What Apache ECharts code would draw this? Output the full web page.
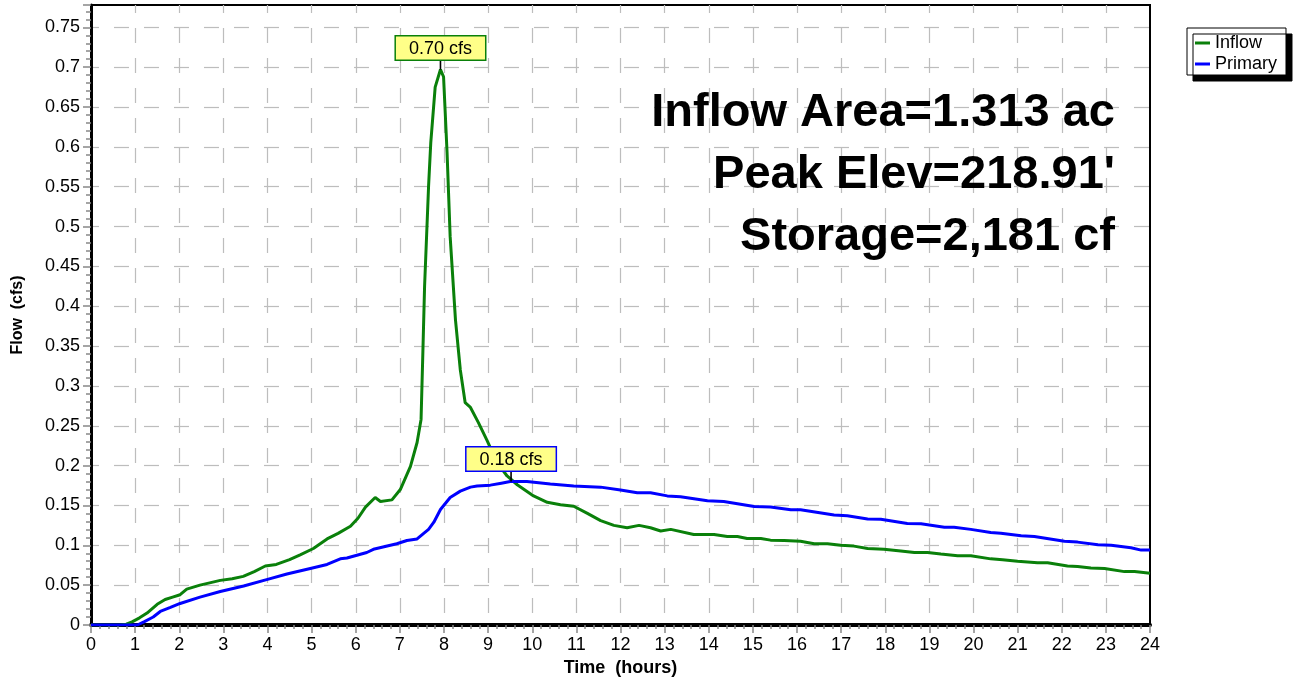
<!DOCTYPE html>
<html>
<head>
<meta charset="utf-8">
<script src="https://cdn.jsdelivr.net/npm/echarts@6/dist/echarts.min.js"></script>
<style>html,body{margin:0;padding:0;background:#fff;}#c{width:1294px;height:682px;}</style>
</head>
<body>
<div id="c"></div>
<script>
// Inflow hydrograph (hours, cfs)
const inflowTime = [0,0.65,0.8,0.93,1.1,1.27,1.5,1.68,1.85,2.02,2.17,2.47,2.93,3.2,3.45,3.7,3.95,4.2,4.5,4.74,5.04,5.35,5.6,5.88,6.05,6.22,6.44,6.56,6.82,7.01,7.24,7.39,7.48,7.52,7.56,7.65,7.7,7.8,7.92,7.99,8.07,8.14,8.26,8.37,8.48,8.6,8.78,8.98,9.2,9.43,9.66,10.03,10.34,10.64,10.94,11.25,11.55,11.85,12.15,12.42,12.68,12.91,13.14,13.66,14.12,14.42,14.65,14.87,15.18,15.4,15.71,16.08,16.39,16.69,16.99,17.29,17.6,17.97,18.35,18.66,18.96,19.26,19.64,19.94,20.39,20.66,21.0,21.45,21.68,22.13,22.36,22.66,22.97,23.42,23.65,24];
const inflowFlow = [0,0,0.001,0.004,0.009,0.015,0.026,0.032,0.035,0.038,0.045,0.05,0.056,0.058,0.061,0.067,0.074,0.076,0.082,0.088,0.096,0.108,0.115,0.124,0.134,0.148,0.16,0.155,0.157,0.17,0.199,0.229,0.258,0.34,0.425,0.55,0.605,0.675,0.697,0.688,0.592,0.487,0.383,0.32,0.279,0.273,0.254,0.231,0.204,0.187,0.176,0.162,0.154,0.151,0.149,0.14,0.131,0.125,0.122,0.125,0.122,0.118,0.12,0.1135,0.1135,0.111,0.111,0.1085,0.1085,0.1065,0.106,0.105,0.102,0.102,0.1,0.099,0.096,0.095,0.093,0.091,0.091,0.089,0.087,0.087,0.083,0.082,0.08,0.078,0.078,0.074,0.0735,0.0715,0.071,0.067,0.067,0.065];
// Primary outflow hydrograph (hours, cfs)
const primaryTime = [0,1.05,1.2,1.41,1.57,1.8,2.02,2.47,2.93,3.46,3.98,4.44,4.97,5.35,5.65,5.8,6.25,6.4,6.93,7.16,7.39,7.54,7.65,7.77,7.92,8.14,8.37,8.6,8.75,9.05,9.3,9.5,9.88,10.41,10.94,11.55,12.0,12.38,12.68,13.06,13.36,13.97,14.34,15.03,15.4,15.86,16.08,16.84,17.14,17.6,17.9,18.5,18.81,19.34,19.56,19.94,20.39,20.62,21.08,21.38,22.06,22.36,22.82,23.12,23.57,23.8,24];
const primaryFlow = [0,0,0.004,0.01,0.017,0.022,0.027,0.035,0.042,0.049,0.057,0.064,0.071,0.076,0.083,0.084,0.091,0.095,0.102,0.106,0.108,0.115,0.12,0.129,0.145,0.16,0.168,0.173,0.1745,0.1755,0.178,0.18,0.18,0.177,0.1745,0.173,0.1695,0.166,0.166,0.162,0.161,0.156,0.155,0.1486,0.148,0.1445,0.1445,0.138,0.137,0.133,0.1327,0.1273,0.127,0.1227,0.1227,0.12,0.116,0.115,0.112,0.111,0.105,0.104,0.1006,0.1,0.097,0.094,0.094];
const seriesNames = ['Inflow', 'Primary'];
const peakInflow = [7.92, 0.697];
const peakPrimary = [9.52, 0.18];
const peakLabels = ['0.70 cfs', '0.18 cfs'];
const infoLines = ['Inflow Area=1.313 ac', "Peak Elev=218.91'", 'Storage=2,181 cf'];

const FONT = "'Liberation Sans', Arial, sans-serif";
const GREEN = '#0a800a';
const BLUE = '#0000ff';

function peakMark(coord, text, border, lineLen) {
  return {
    silent: true,
    animation: false,
    data: [{
      coord: coord,
      symbol: 'rect',
      symbolSize: [1.6, lineLen],
      symbolOffset: [0, -lineLen / 2],
      itemStyle: { color: '#000' },
      label: {
        show: true, position: 'top', distance: 0,
        formatter: text, fontFamily: FONT, fontSize: 18, color: '#000',
        backgroundColor: '#ffff88', borderColor: border, borderWidth: 1.5,
        padding: [3, 13, 2, 13]
      }
    }]
  };
}

const gridLine = { show: true, showMinLine: false, showMaxLine: false, lineStyle: { color: '#bdbdbd', width: 1.2, type: [15, 15], dashOffset: 7 } };

const chart = echarts.init(document.getElementById('c'), null, { renderer: 'canvas' });
chart.setOption({
  animation: false,
  backgroundColor: '#fff',
  textStyle: { fontFamily: FONT },
  grid: { left: 91, top: 5, right: 144, bottom: 56, show: true, borderColor: '#000', borderWidth: 2, backgroundColor: 'transparent' },
  legend: {
    orient: 'vertical', left: 1187, top: 28,
    icon: 'rect', itemWidth: 15, itemHeight: 3, itemGap: 3,
    padding: [6, 9, 2, 8],
    backgroundColor: '#fff', borderColor: '#000', borderWidth: 1,
    shadowColor: '#000', shadowOffsetX: 6, shadowOffsetY: 6, shadowBlur: 0,
    textStyle: { fontFamily: FONT, fontSize: 18, color: '#000' },
    data: seriesNames
  },
  xAxis: {
    type: 'value', min: 0, max: 24, interval: 1,
    name: 'Time  (hours)', nameLocation: 'middle', nameGap: 34,
    nameTextStyle: { fontFamily: FONT, fontSize: 18, fontWeight: 'bold', color: '#000' },
    axisLine: { onZero: false, lineStyle: { color: '#000', width: 4 } },
    axisTick: { show: true, length: 8, lineStyle: { color: '#888', width: 1.5 } },
    minorTick: { show: true, splitNumber: 5, length: 4, lineStyle: { color: '#888', width: 1.5 } },
    axisLabel: { fontFamily: FONT, fontSize: 18, color: '#000', margin: 11 },
    splitLine: gridLine
  },
  yAxis: {
    type: 'value', min: 0, max: 0.778, interval: 0.05,
    name: 'Flow  (cfs)', nameLocation: 'middle', nameGap: 65, nameRotate: 90,
    nameTextStyle: { fontFamily: FONT, fontSize: 16, fontWeight: 'bold', color: '#000' },
    axisLine: { onZero: false, lineStyle: { color: '#000', width: 3 } },
    axisTick: { show: true, length: 8, lineStyle: { color: '#888', width: 1.5 } },
    minorTick: { show: true, splitNumber: 5, length: 5, lineStyle: { color: '#888', width: 1.5 } },
    axisLabel: {
      fontFamily: FONT, fontSize: 18, color: '#000', margin: 11, showMaxLabel: false,
      formatter: v => (Math.round(v * 100) / 100).toString()
    },
    splitLine: gridLine
  },
  graphic: infoLines.map((t, i) => ({
    type: 'text', right: 1294 - 1115, top: 90 + i * 62, z: 10,
    style: { text: t, font: "bold 47px " + FONT, fill: '#000' }
  })),
  series: [
    {
      name: seriesNames[0], type: 'line', showSymbol: false, symbol: 'none',
      color: GREEN, lineStyle: { color: GREEN, width: 3 },
      data: inflowTime.map((t, i) => [t, inflowFlow[i]]),
      markPoint: peakMark(peakInflow, peakLabels[0], GREEN, 10),
      z: 3
    },
    {
      name: seriesNames[1], type: 'line', showSymbol: false, symbol: 'none',
      color: BLUE, lineStyle: { color: BLUE, width: 3 },
      data: primaryTime.map((t, i) => [t, primaryFlow[i]]),
      markPoint: peakMark(peakPrimary, peakLabels[1], BLUE, 11),
      z: 4
    }
  ]
});
</script>
</body>
</html>
